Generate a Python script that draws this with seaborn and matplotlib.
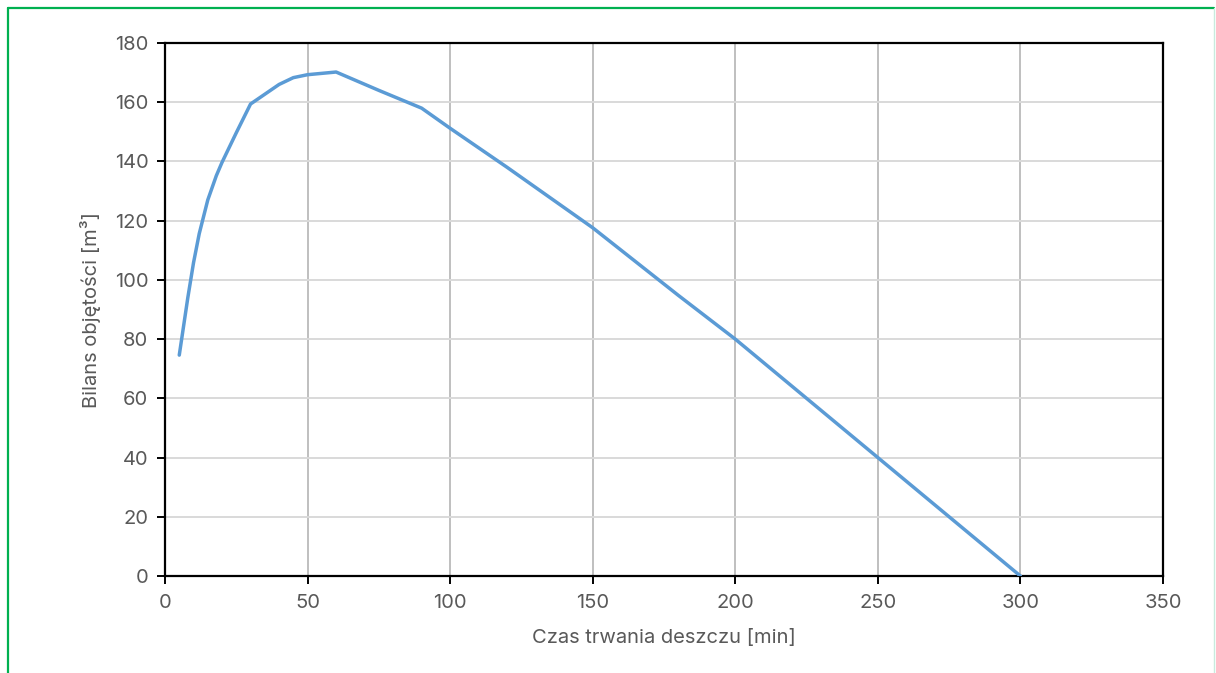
import matplotlib
matplotlib.use("Agg")
import matplotlib.pyplot as plt
import seaborn as sns
import pandas as pd
from matplotlib.lines import Line2D

# Data
czas_min = [5, 8, 10, 12, 15, 18, 20, 25, 30, 40, 45, 50, 60, 75, 90, 100, 120, 150, 180, 200, 250, 300]
bilans_m3 = [74.6, 94.0, 105.8, 115.6, 127.0, 135.2, 139.7, 149.7, 159.4, 166.0, 168.3, 169.3, 170.2,
             164.0, 158.0, 151.2, 138.0, 117.6, 94.8, 80.0, 40.0, 0.0]
x_ticks = [0, 50, 100, 150, 200, 250, 300, 350]
y_ticks = [0, 20, 40, 60, 80, 100, 120, 140, 160, 180]
x_label = "Czas trwania deszczu [min]"
y_label = "Bilans objętości [m³]"

df = pd.DataFrame({"czas": czas_min, "bilans": bilans_m3})

sns.set_theme(style="white")
plt.rcParams["font.family"] = ["Inter", "DejaVu Sans"]

fig = plt.figure(figsize=(12.16, 6.73), dpi=100)
ax = fig.add_axes([0.1357, 0.1441, 0.8207, 0.7920])

sns.lineplot(data=df, x="czas", y="bilans", ax=ax, color="#5B9BD5",
             linewidth=2.5, sort=False, zorder=3)

ax.set_xlim(0, 350)
ax.set_ylim(0, 180)
ax.set_xticks(x_ticks)
ax.set_yticks(y_ticks)

ax.xaxis.grid(True, color="#BFBFBF", linewidth=1.4)
ax.yaxis.grid(True, color="#D9D9D9", linewidth=1.4)
ax.set_axisbelow(True)

for s in ax.spines.values():
    s.set_color("black")
    s.set_linewidth(1.6)
    s.set_visible(True)

ax.tick_params(axis="both", which="major", direction="out", length=6, width=1.4,
               color="black", labelsize=14.5, labelcolor="#595959",
               left=True, bottom=True)
ax.tick_params(axis="x", pad=7)
ax.tick_params(axis="y", pad=6)

ax.set_xlabel(x_label, fontsize=14.5, color="#595959", labelpad=12)
ax.set_ylabel(y_label, fontsize=14.5, color="#595959", labelpad=10)

# Frame around the figure (green left/top, faint right)
fig.add_artist(Line2D([7.5 / 1216, 7.5 / 1216], [0, 1 - 8 / 673], transform=fig.transFigure,
                      color="#00B050", linewidth=1.6))
fig.add_artist(Line2D([7.5 / 1216, 1214 / 1216], [1 - 8 / 673, 1 - 8 / 673], transform=fig.transFigure,
                      color="#00B050", linewidth=1.6))
fig.add_artist(Line2D([1214 / 1216, 1214 / 1216], [0, 1 - 8 / 673], transform=fig.transFigure,
                      color="#C8EBDD", linewidth=1.0))

fig.savefig("out.png", dpi=100, facecolor="white")
